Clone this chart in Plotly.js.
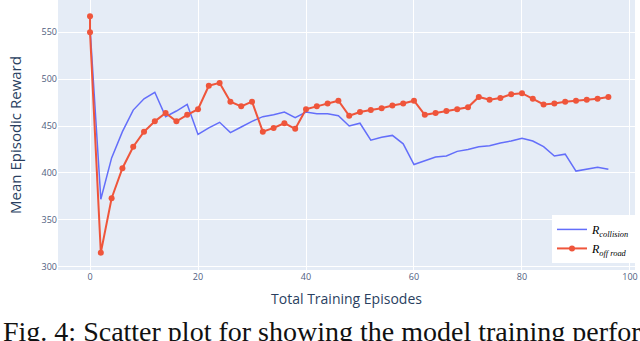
<!DOCTYPE html>
<html><head><meta charset="utf-8">
<script src="https://cdn.plot.ly/plotly-3.0.1.min.js"></script>
<style>
html,body{margin:0;padding:0;width:640px;height:341px;overflow:hidden;background:#fff}
#chart{position:absolute;left:0;top:0;width:640px;height:341px}
#cap{position:absolute;left:3px;top:318px;font-family:"Liberation Serif","Times New Roman",serif;font-size:28px;line-height:28px;white-space:nowrap;color:#111}
</style></head><body>
<div id="chart"></div>
<div id="cap">Fig. 4: Scatter plot for showing the model training performance</div>
<script>
const episodesCollision = [0,2,4,6,8,10,12,14,16,18,20,22,24,26,28,30,32,34,36,38,40,42,44,46,48,50,52,54,56,58,60,62,64,66,68,70,72,74,76,78,80,82,84,86,88,90,92,94,96];
const rewardCollision = [555,372,416,444,467,479,486,460,466,473,441,448,454,443,449,455,460,462,465,459,465,463,463,461,450,453,435,438,440,431,409,413,417,418,423,425,428,429,432,434,437,434,428,418,420,402,404,406,404];
const episodesOffRoad = [0,0,2,4,6,8,10,12,14,16,18,20,22,24,26,28,30,32,34,36,38,40,42,44,46,48,50,52,54,56,58,60,62,64,66,68,70,72,74,76,78,80,82,84,86,88,90,92,94,96];
const rewardOffRoad = [567,550,315,373,405,428,444,455,464,455,462,468,493,496,476,471,476,444,448,453,447,468,471,474,477,461,465,467,469,472,474,477,462,464,466,468,470,481,478,480,484,485,479,473,474,476,477,478,479,481];
const xTicks = [0,20,40,60,80,100];
const yTicks = [300,350,400,450,500,550];
const seriesNames = ['<i>R</i><sub><i>collision</i></sub>', '<i>R</i><sub><i>off road</i></sub>'];

const traces = [
  {x: episodesCollision, y: rewardCollision, name: seriesNames[0], type: 'scatter', mode: 'lines',
   line: {color: '#636efa', width: 1.5}},
  {x: episodesOffRoad, y: rewardOffRoad, name: seriesNames[1], type: 'scatter', mode: 'lines+markers',
   line: {color: '#ef553b', width: 2}, marker: {color: '#ef553b', size: 6}}
];
const layout = {
  width: 640, height: 341,
  margin: {l: 58, r: 5, t: 0, b: 71, autoexpand: false},
  paper_bgcolor: '#ffffff', plot_bgcolor: '#e5ecf6',
  font: {family: '"Open Sans", Arial, sans-serif', color: '#2a3f5f'},
  xaxis: {range: [-5.93, 100.93], tickvals: xTicks, ticktext: xTicks.map(String), automargin: false,
    gridcolor: '#ffffff', gridwidth: 1, zeroline: false, showline: false,
    tickfont: {size: 9, color: '#506080'},
    title: {text: 'Total Training Episodes', font: {size: 14, color: '#2a3f5f'}, standoff: 12}},
  yaxis: {range: [296.5, 584.4], tickvals: yTicks, ticktext: yTicks.map(String), automargin: false,
    gridcolor: '#ffffff', gridwidth: 1, zeroline: false, showline: false,
    tickfont: {size: 9, color: '#506080'},
    title: {text: 'Mean Episodic Reward', font: {size: 15, color: '#2a3f5f'}, standoff: 16}},
  showlegend: true,
  legend: {x: 1, y: 0.204, xanchor: 'right', yanchor: 'top', bgcolor: '#ffffff',
    font: {family: '"Liberation Serif", "Times New Roman", serif', size: 12, color: '#000'},
    itemwidth: 30, tracegroupgap: 0}
};
Plotly.newPlot('chart', traces, layout, {displayModeBar: false, staticPlot: true});
</script>
</body></html>
